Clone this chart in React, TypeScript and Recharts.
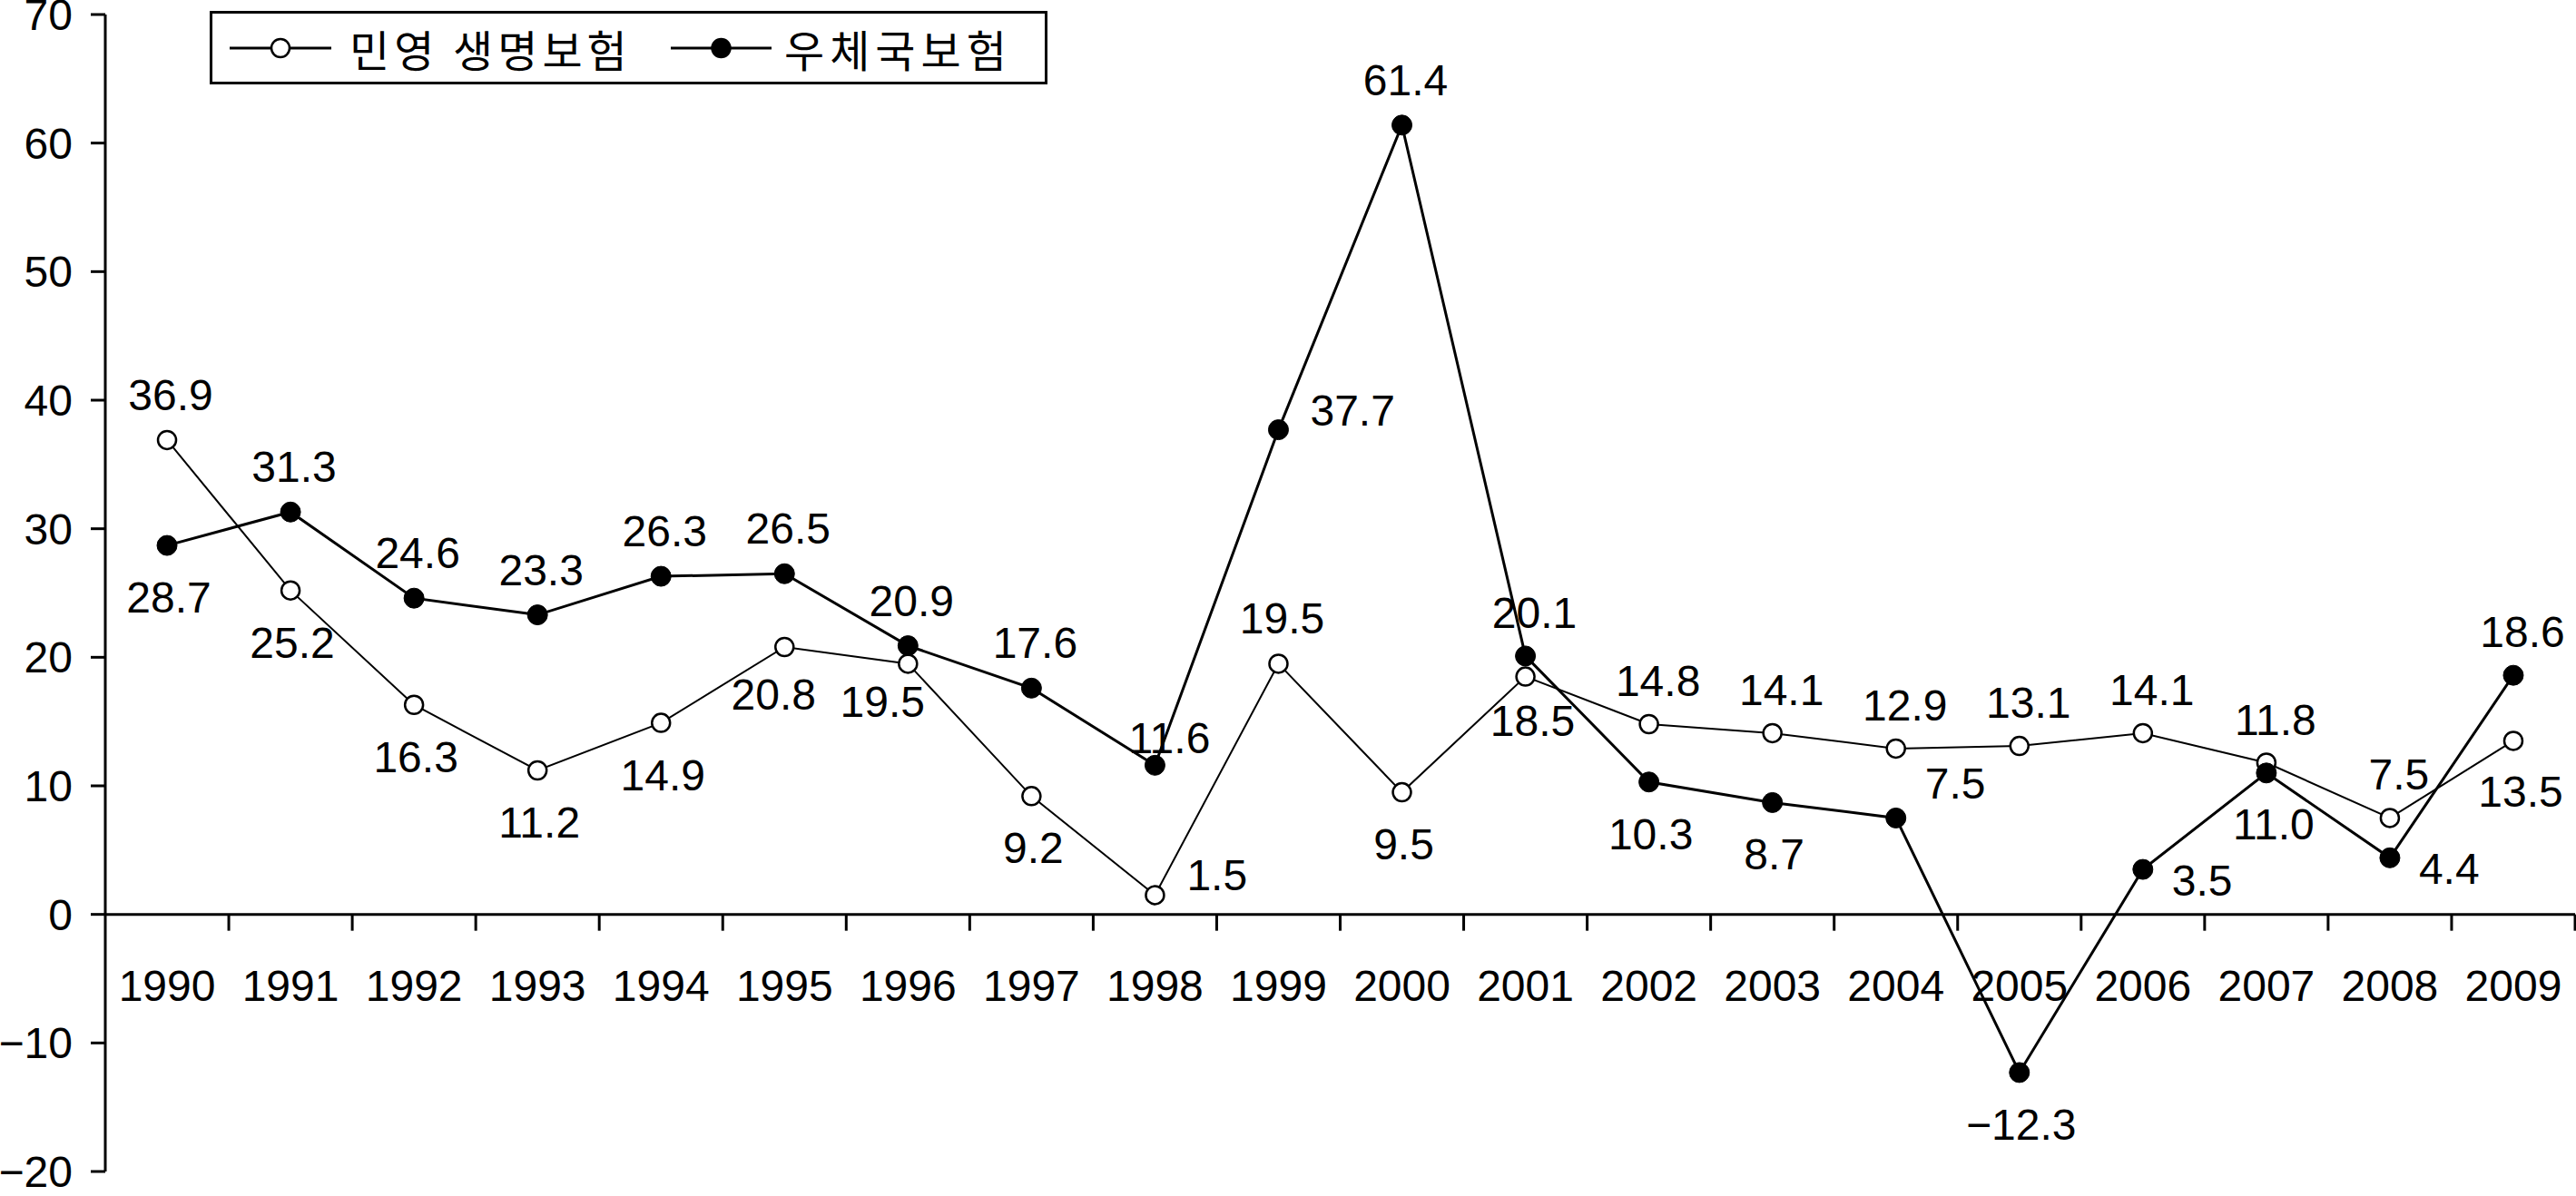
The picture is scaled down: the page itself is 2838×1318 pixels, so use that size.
import React from 'react';
import { LineChart, Line, XAxis, YAxis, ReferenceLine, Legend, LabelList } from 'recharts';

const years = ['1990', '1991', '1992', '1993', '1994', '1995', '1996', '1997', '1998', '1999', '2000', '2001', '2002', '2003', '2004', '2005', '2006', '2007', '2008', '2009'];
const privateLife = [36.9, 25.2, 16.3, 11.2, 14.9, 20.8, 19.5, 9.2, 1.5, 19.5, 9.5, 18.5, 14.8, 14.1, 12.9, 13.1, 14.1, 11.8, 7.5, 13.5];
const postalInsurance = [28.7, 31.3, 24.6, 23.3, 26.3, 26.5, 20.9, 17.6, 11.6, 37.7, 61.4, 20.1, 10.3, 8.7, 7.5, -12.3, 3.5, 11.0, 4.4, 18.6];
const yTicks = [-20, -10, 0, 10, 20, 30, 40, 50, 60, 70];
const seriesNames = ['민영 생명보험', '우체국보험'];

// label placement relative to each point (style, not data)
const privatePlacement = ['top', 'bottom', 'bottom', 'bottom', 'bottom', 'bottomLeftSmall', 'bottomLeft', 'bottom', 'right', 'top', 'bottom', 'bottomNear', 'topRight', 'topRight', 'topRight', 'topRight', 'topRight', 'topRight', 'topRight', 'bottomRight'];
const postalPlacement = ['bottom', 'top', 'top', 'top', 'top', 'top', 'top', 'top', 'nearTopRight', 'right', 'top', 'topRight', 'bottom', 'bottom', 'upRight', 'bottom', 'rightDown', 'bottomRight', 'rightDown', 'topRight'];

const data = years.map((y, i) => ({ year: y, private: privateLife[i], postal: postalInsurance[i] }));

const FONT = '"Liberation Sans", Arial, "Noto Sans CJK KR", sans-serif';
const KFONT = '"Noto Sans CJK KR", "Liberation Sans", sans-serif';

const fmt = (v: number) => (v < 0 ? `\u2212${(-v).toFixed(1)}` : v.toFixed(1));

const OFFSETS: Record<string, [number, number, string]> = {
  top: [4, -50, 'middle'],
  topRight: [10, -48, 'middle'],
  bottom: [2, 57, 'middle'],
  bottomRight: [8, 56, 'middle'],
  bottomLeft: [-28, 42, 'middle'],
  bottomLeftSmall: [-12, 52, 'middle'],
  bottomNear: [8, 48, 'middle'],
  nearTopRight: [16, -30, 'middle'],
  right: [35, -22, 'start'],
  upRight: [32, -38, 'start'],
  rightDown: [32, 12, 'start'],
};

const makeLabel = (placements: string[]) => (props: any) => {
  const { x, y, value, index } = props;
  const [dx, dy, anchor] = OFFSETS[placements[index] || 'top'];
  return (
    <text x={x + dx} y={y + dy} dy="0.355em" textAnchor={anchor as any} fontSize={48} fontFamily={FONT} fill="#000">
      {fmt(Number(value))}
    </text>
  );
};

const ZeroAxis = (props: any) => {
  const { x1, y1, x2 } = props;
  const n = years.length;
  const bw = (x2 - x1) / n;
  return (
    <g>
      <line x1={x1} y1={y1} x2={x2} y2={y1} stroke="#000" strokeWidth={3} />
      {years.map((yr, i) => (
        <g key={yr}>
          <line x1={x1 + bw * (i + 1)} x2={x1 + bw * (i + 1)} y1={y1} y2={y1 + 18} stroke="#000" strokeWidth={3} />
          <text x={x1 + bw * (i + 0.5)} y={y1 + 78} dy="0.355em" textAnchor="middle" fontSize={48} fontFamily={FONT} fill="#000">
            {yr}
          </text>
        </g>
      ))}
    </g>
  );
};

const LegendIcon = ({ filled, width }: { filled: boolean; width: number }) => (
  <svg width={width} height={30} style={{ display: 'block', flex: 'none' }}>
    <line x1={0} y1={15} x2={width} y2={15} stroke="#000" strokeWidth={3} />
    <circle cx={width / 2} cy={15} r={10} fill={filled ? '#000' : '#fff'} stroke="#000" strokeWidth={2.5} />
  </svg>
);

const LegendBox = () => (
  <div
    style={{
      boxSizing: 'border-box',
      width: 923,
      height: 81,
      border: '3px solid #000',
      background: '#fff',
      display: 'flex',
      alignItems: 'center',
      paddingLeft: 19,
      fontFamily: KFONT,
      fontSize: 48,
      lineHeight: 1,
      color: '#000',
    }}
  >
    <LegendIcon filled={false} width={112} />
    <span style={{ marginLeft: 20, display: 'inline-block', width: 325, letterSpacing: 5, whiteSpace: 'nowrap', flex: 'none' }}>{seriesNames[0]}</span>
    <span style={{ marginLeft: 29, flex: 'none' }}>
      <LegendIcon filled={true} width={111} />
    </span>
    <span style={{ marginLeft: 14, display: 'inline-block', letterSpacing: 6, whiteSpace: 'nowrap', flex: 'none' }}>{seriesNames[1]}</span>
  </div>
);

export default function App() {
  return (
    <div style={{ position: 'absolute', left: 0, top: 0, width: 2838, height: 1318, background: '#fff' }}>
      <LineChart width={2838} height={1318} data={data} margin={{ top: 16, right: 1, bottom: 27, left: 0 }}>
        <XAxis dataKey="year" hide scale="band" />
        <YAxis
          width={116}
          domain={[-20, 70]}
          ticks={yTicks}
          interval={0}
          allowDataOverflow
          stroke="#000"
          axisLine={{ stroke: '#000', strokeWidth: 3 }}
          tickLine={{ stroke: '#000', strokeWidth: 3 }}
          tickSize={16}
          tickMargin={20}
          tick={{ fontSize: 48, fill: '#000', fontFamily: FONT }}
          tickFormatter={(v: number) => (v < 0 ? `\u2212${-v}` : `${v}`)}
        />
        <ReferenceLine y={0} shape={ZeroAxis} ifOverflow="extendDomain" />
        <Legend
          verticalAlign="middle"
          align="center"
          layout="horizontal"
          wrapperStyle={{ position: 'absolute', left: 231, top: 12, width: 'auto', height: 'auto' }}
          content={() => <LegendBox />}
        />
        <Line
          dataKey="private"
          name={seriesNames[0]}
          stroke="#000"
          strokeWidth={2}
          isAnimationActive={false}
          dot={{ r: 10, fill: '#fff', stroke: '#000', strokeWidth: 2.5 }}
          activeDot={false}
        >
          <LabelList dataKey="private" content={makeLabel(privatePlacement)} />
        </Line>
        <Line
          dataKey="postal"
          name={seriesNames[1]}
          stroke="#000"
          strokeWidth={3}
          isAnimationActive={false}
          dot={{ r: 11, fill: '#000', stroke: '#000', strokeWidth: 1 }}
          activeDot={false}
        >
          <LabelList dataKey="postal" content={makeLabel(postalPlacement)} />
        </Line>
      </LineChart>
    </div>
  );
}
